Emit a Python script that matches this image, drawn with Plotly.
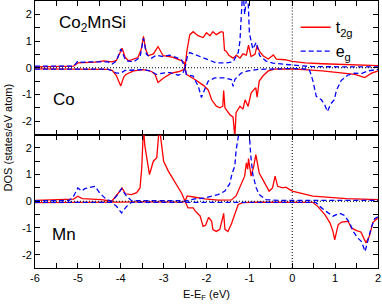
import plotly.graph_objects as go
from plotly.subplots import make_subplots

# ---------------- Co panel (top) ----------------
co_t2g_up_e = [-6.0, -5.5, -5.1, -5.0, -4.8, -4.6, -4.4, -4.2, -4.1, -4.03, -3.97, -3.9, -3.82, -3.7, -3.6, -3.52,
               -3.47, -3.42, -3.36, -3.24, -3.13, -3.01, -2.8, -2.6, -2.52, -2.5, -2.46, -2.39, -2.31, -2.2, -2.08,
               -2.0, -1.92, -1.85, -1.77, -1.66, -1.61, -1.58, -1.54, -1.48, -1.38, -1.3, -1.22, -1.15, -1.07, -1.02,
               -0.96, -0.87, -0.82, -0.76, -0.68, -0.56, -0.44, -0.37, -0.17, 0.0, 0.3, 0.7, 1.3, 2.0]
co_t2g_up = [0.03, 0.04, 0.06, 0.18, 0.2, 0.21, 0.26, 0.22, 0.28, 0.5, 0.73, 0.4, 0.26, 0.32, 0.38, 0.7,
             1.18, 0.7, 0.45, 0.52, 0.79, 0.45, 0.4, 0.28, 0.2, 0.0, 0.6, 1.24, 1.35, 1.2, 1.13,
             1.31, 1.2, 1.35, 1.24, 1.35, 1.33, 0.65, 0.62, 0.47, 0.36, 0.47, 0.36, 0.52, 0.47, 0.85,
             0.42, 0.5, 0.82, 0.6, 0.45, 0.33, 0.48, 0.32, 0.3, 0.24, 0.18, 0.15, 0.11, 0.08]

co_t2g_dn_e = [-6.0, -5.0, -4.3, -4.2, -4.1, -4.0, -3.93, -3.88, -3.7, -3.47, -3.28, -3.2, -3.13, -3.01, -2.82,
               -2.66, -2.54, -2.5, -2.47, -2.27, -2.08, -1.96, -1.88, -1.77, -1.69, -1.62, -1.6, -1.57, -1.46,
               -1.38, -1.34, -1.31, -1.22, -1.15, -1.1, -1.03, -0.96, -0.9, -0.85, -0.82, -0.77, -0.68, -0.56,
               -0.41, 0.0, 0.7, 1.46, 1.69, 1.85, 2.0]
co_t2g_dn = [-0.04, -0.05, -0.06, -0.1, -0.3, -0.68, -0.35, -0.25, -0.12, -0.07, -0.14, -0.25, -0.55, -0.39, -0.2,
             -0.15, -0.08, 0.0, -0.25, -0.44, -0.65, -0.83, -1.2, -1.44, -1.5, -1.44, -0.85, -1.5, -1.75,
             -1.85, -2.6, -1.68, -1.44, -1.55, -1.2, -1.45, -0.95, -0.83, -0.75, -1.1, -0.5, -0.3, -0.12,
             -0.05, -0.04, -0.12, -0.25, -0.37, -0.2, -0.12]

co_eg_up_e = [-6.0, -5.1, -5.0, -4.9, -4.8, -4.3, -4.2, -4.1, -4.0, -3.88, -3.7, -3.55, -3.47, -3.4, -3.28, -3.17,
              -3.01, -2.86, -2.7, -2.58, -2.5, -2.44, -2.39, -2.23, -2.0, -1.77, -1.54, -1.38, -1.26, -1.22, -1.18,
              -1.15, -1.11, -1.07, -1.04, -1.0, -0.92, -0.84, -0.76, -0.61, -0.45, 0.0, 0.48, 2.0]
co_eg_up = [0.06, 0.06, 0.25, 0.2, 0.22, 0.22, 0.14, 0.25, 0.7, 0.26, 0.22, 0.4, 1.1, 0.5, 0.36, 0.47,
            0.42, 0.47, 0.38, 0.3, 0.0, 0.47, 0.57, 0.47, 0.3, 0.18, 0.18, 0.22, 0.57, 1.0, 2.2,
            3.0, 2.0, 3.0, 3.0, 1.3, 0.7, 0.95, 0.45, 0.25, 0.17, 0.1, 0.04, 0.03]

co_eg_dn_e = [-6.0, -4.3, -4.2, -4.1, -4.0, -3.9, -3.47, -3.3, -3.17, -3.01, -2.85, -2.66, -2.55, -2.5, -2.47,
              -2.31, -2.27, -2.19, -2.12, -2.04, -1.96, -1.81, -1.57, -1.42, -1.38, -1.34, -1.19, -1.03, -0.77,
              0.0, 0.38, 0.41, 0.48, 0.56, 0.68, 0.76, 0.82, 0.9, 0.98, 1.03, 1.14, 1.29, 1.46, 1.61, 1.76, 2.0]
co_eg_dn = [-0.05, -0.05, -0.12, -0.2, -0.2, -0.1, -0.07, -0.12, -0.25, -0.2, -0.18, -0.28, -0.2, 0.0, -0.25,
            -0.31, -0.45, -0.7, -1.11, -0.8, -0.5, -0.38, -0.38, -0.44, -0.7, -0.44, -0.2, -0.12, -0.06,
            -0.03, -0.05, -0.12, -0.48, -1.07, -1.2, -1.4, -1.64, -1.35, -1.2, -0.85, -0.48, -0.28, -0.2, -0.22,
            -0.12, -0.06]

# ---------------- Mn panel (bottom) ----------------
mn_t2g_up_e = [-6.0, -5.5, -5.1, -5.0, -4.9, -4.45, -4.21, -4.06, -3.97, -3.89, -3.75, -3.63, -3.55, -3.51, -3.47,
               -3.44, -3.4, -3.33, -3.24, -3.16, -3.1, -3.0, -2.89, -2.74, -2.58, -2.5, -2.45, -2.27, -2.04, -1.73,
               -1.42, -1.31, -1.19, -1.11, -1.07, -1.04, -1.02, -0.96, -0.9, -0.85, -0.77, -0.66, -0.54, -0.46,
               -0.4, -0.34, -0.22, -0.15, 0.0, 0.48, 1.26, 2.0]
mn_t2g_up = [0.03, 0.05, 0.08, 0.19, 0.1, 0.06, 0.0, 0.3, 0.5, 0.28, 0.25, 0.32, 0.5, 1.25, 2.8,
             2.1, 1.7, 1.0, 1.5, 1.63, 2.8, 1.5, 1.13, 0.75, 0.3, 0.0, 0.2, 0.15, 0.09, 0.04,
             0.05, 0.2, 0.69, 0.94, 1.44, 1.2, 1.6, 0.94, 1.3, 1.75, 1.06, 0.75, 0.38, 0.5,
             0.94, 0.56, 0.5, 0.53, 0.38, 0.19, 0.1, 0.06]

mn_t2g_dn_e = [-6.0, -4.5, -4.1, -3.5, -2.55, -2.5, -2.43, -2.31, -2.27, -2.15, -2.08, -2.02, -1.95, -1.88, -1.85,
               -1.77, -1.69, -1.62, -1.6, -1.57, -1.5, -1.42, -1.34, -1.26, -1.15, -0.8, 0.48, 0.6, 0.76, 0.88,
               0.95, 0.99, 1.07, 1.15, 1.3, 1.38, 1.5, 1.6, 1.72, 1.8, 1.88, 2.0]
mn_t2g_dn = [-0.05, -0.05, -0.03, -0.02, -0.03, 0.0, -0.25, -0.25, -0.35, -0.55, -0.94, -0.9, -0.6, -0.75, -1.06,
             -1.13, -1.05, -0.6, -0.45, -1.05, -1.13, -0.85, -0.45, -0.12, -0.05, -0.03, -0.04, -0.2, -0.5, -0.81,
             -1.13, -1.45, -0.88, -0.78, -0.75, -1.0, -1.1, -1.15, -1.56, -1.3, -0.8, -0.62]

mn_eg_up_e = [-6.0, -5.2, -5.1, -5.0, -4.91, -4.84, -4.6, -4.49, -4.33, -4.21, -4.1, -3.98, -3.87, -3.75, -2.55,
              -2.5, -2.27, -2.04, -1.88, -1.73, -1.57, -1.46, -1.4, -1.34, -1.31, -1.25, -1.2, -1.15, -1.11, -1.07,
              -1.02, -0.97, -0.92, -0.84, -0.77, -0.61, -0.3, 2.0]
mn_eg_up = [0.02, 0.03, 0.19, 0.5, 0.38, 0.47, 0.56, 0.31, 0.06, 0.0, 0.19, 0.47, 0.2, 0.02, 0.02,
            0.0, 0.09, 0.12, 0.19, 0.25, 0.38, 0.65, 1.06, 1.31, 1.9, 2.38, 3.0, 3.0, 2.6, 3.0,
            3.0, 1.75, 1.0, 0.5, 0.25, 0.06, 0.03, 0.03]

mn_eg_dn_e = [-6.0, -4.21, -4.1, -3.98, -3.87, -3.75, 0.55, 0.64, 0.79, 0.95, 1.03, 1.1, 1.22, 1.34, 1.42, 1.53,
              1.61, 1.7, 1.76, 1.84, 1.92, 2.0]
mn_eg_dn = [-0.04, -0.04, -0.19, -0.44, -0.2, -0.04, -0.04, -0.19, -0.38, -0.56, -0.5, -0.45, -0.53, -0.81, -1.13,
            -1.38, -1.5, -1.88, -1.5, -1.0, -0.65, -0.58]

x_tick_vals = [-6, -5, -4, -3, -2, -1, 0, 1, 2]
x_tick_text = ["-6", "-5", "-4", "-3", "-2", "-1", "0", "1", "2"]
y_tick_vals = [-2, -1, 0, 1, 2]
y_tick_text = ["-2", "-1", "0", "1", "2"]

RED = "#ff0000"
BLUE = "#0000ff"
FONT = "Liberation Sans, Arial, sans-serif"

fig = make_subplots(rows=2, cols=1, shared_xaxes=True, vertical_spacing=0)

def add(row, e, v, color, dash, name, show):
    fig.add_trace(go.Scatter(x=e, y=v, mode="lines", name=name, showlegend=show, legendgroup=name,
                             line=dict(color=color, width=1.3, dash=dash)), row=row, col=1)

add(1, co_t2g_up_e, co_t2g_up, RED, "solid", "t<sub>2g</sub>", True)
add(1, co_t2g_dn_e, co_t2g_dn, RED, "solid", "t<sub>2g</sub>", False)
add(1, co_eg_up_e, co_eg_up, BLUE, "5px,3px", "e<sub>g</sub>", True)
add(1, co_eg_dn_e, co_eg_dn, BLUE, "5px,3px", "e<sub>g</sub>", False)
add(2, mn_t2g_up_e, mn_t2g_up, RED, "solid", "t<sub>2g</sub>", False)
add(2, mn_t2g_dn_e, mn_t2g_dn, RED, "solid", "t<sub>2g</sub>", False)
add(2, mn_eg_up_e, mn_eg_up, BLUE, "5px,3px", "e<sub>g</sub>", False)
add(2, mn_eg_dn_e, mn_eg_dn, BLUE, "5px,3px", "e<sub>g</sub>", False)

axis_common = dict(showline=True, linecolor="black", linewidth=1, mirror="ticks", ticks="inside",
                   ticklen=5, tickcolor="black", showgrid=False, zeroline=False,
                   tickfont=dict(family=FONT, size=11, color="black"))
minor = dict(ticks="inside", ticklen=5, tickcolor="black", tickmode="linear", tick0=0, dtick=0.5, showgrid=False)

for r in (1, 2):
    fig.update_xaxes(range=[-6, 2], tickmode="array", tickvals=x_tick_vals, ticktext=x_tick_text,
                     minor=minor, row=r, col=1, **axis_common)
    fig.update_yaxes(range=[-2.5, 2.5], tickmode="array", tickvals=y_tick_vals, ticktext=y_tick_text,
                     minor=minor, row=r, col=1, **axis_common)
fig.update_xaxes(showticklabels=False, row=1, col=1)

# dotted reference lines
for xa, ya in (("x", "y"), ("x2", "y2")):
    fig.add_shape(type="line", xref=xa + " domain", yref=ya, x0=0, x1=1, y0=0, y1=0,
                  line=dict(color="black", width=1, dash="1px,2px"), layer="above")
    fig.add_shape(type="line", xref=xa, yref=ya + " domain", x0=0, x1=0, y0=0, y1=1,
                  line=dict(color="black", width=1, dash="1px,2px"), layer="above")

fig.add_annotation(text="Co<sub>2</sub>MnSi", xref="x domain", yref="y domain", x=0.065, y=0.83,
                   xanchor="left", yanchor="middle", showarrow=False,
                   font=dict(family=FONT, size=17, color="black"))
fig.add_annotation(text="Co", xref="x domain", yref="y domain", x=0.048, y=0.26,
                   xanchor="left", yanchor="middle", showarrow=False,
                   font=dict(family=FONT, size=17, color="black"))
fig.add_annotation(text="Mn", xref="x2 domain", yref="y2 domain", x=0.045, y=0.25,
                   xanchor="left", yanchor="middle", showarrow=False,
                   font=dict(family=FONT, size=17, color="black"))
fig.add_annotation(text="DOS (states/eV atom)", xref="paper", yref="paper", x=-0.078, y=0.49,
                   xanchor="center", yanchor="middle", textangle=-90, showarrow=False,
                   font=dict(family=FONT, size=11, color="black"))
fig.add_annotation(text="E-E<sub>F</sub> (eV)", xref="paper", yref="paper", x=0.5, y=-0.1,
                   xanchor="center", yanchor="middle", showarrow=False,
                   font=dict(family=FONT, size=11, color="black"))

fig.update_layout(
    width=382, height=305,
    margin=dict(l=35, r=4, t=1, b=37),
    paper_bgcolor="white", plot_bgcolor="white",
    font=dict(family=FONT, size=11, color="black"),
    legend=dict(x=0.76, y=0.965, xanchor="left", yanchor="top", bgcolor="rgba(0,0,0,0)",
                font=dict(family=FONT, size=16, color="black"), itemwidth=30, tracegroupgap=0),
)

fig.write_html("out.html", config={"displayModeBar": False},
               post_script="document.body.style.margin='0';document.body.style.overflow='hidden';")
